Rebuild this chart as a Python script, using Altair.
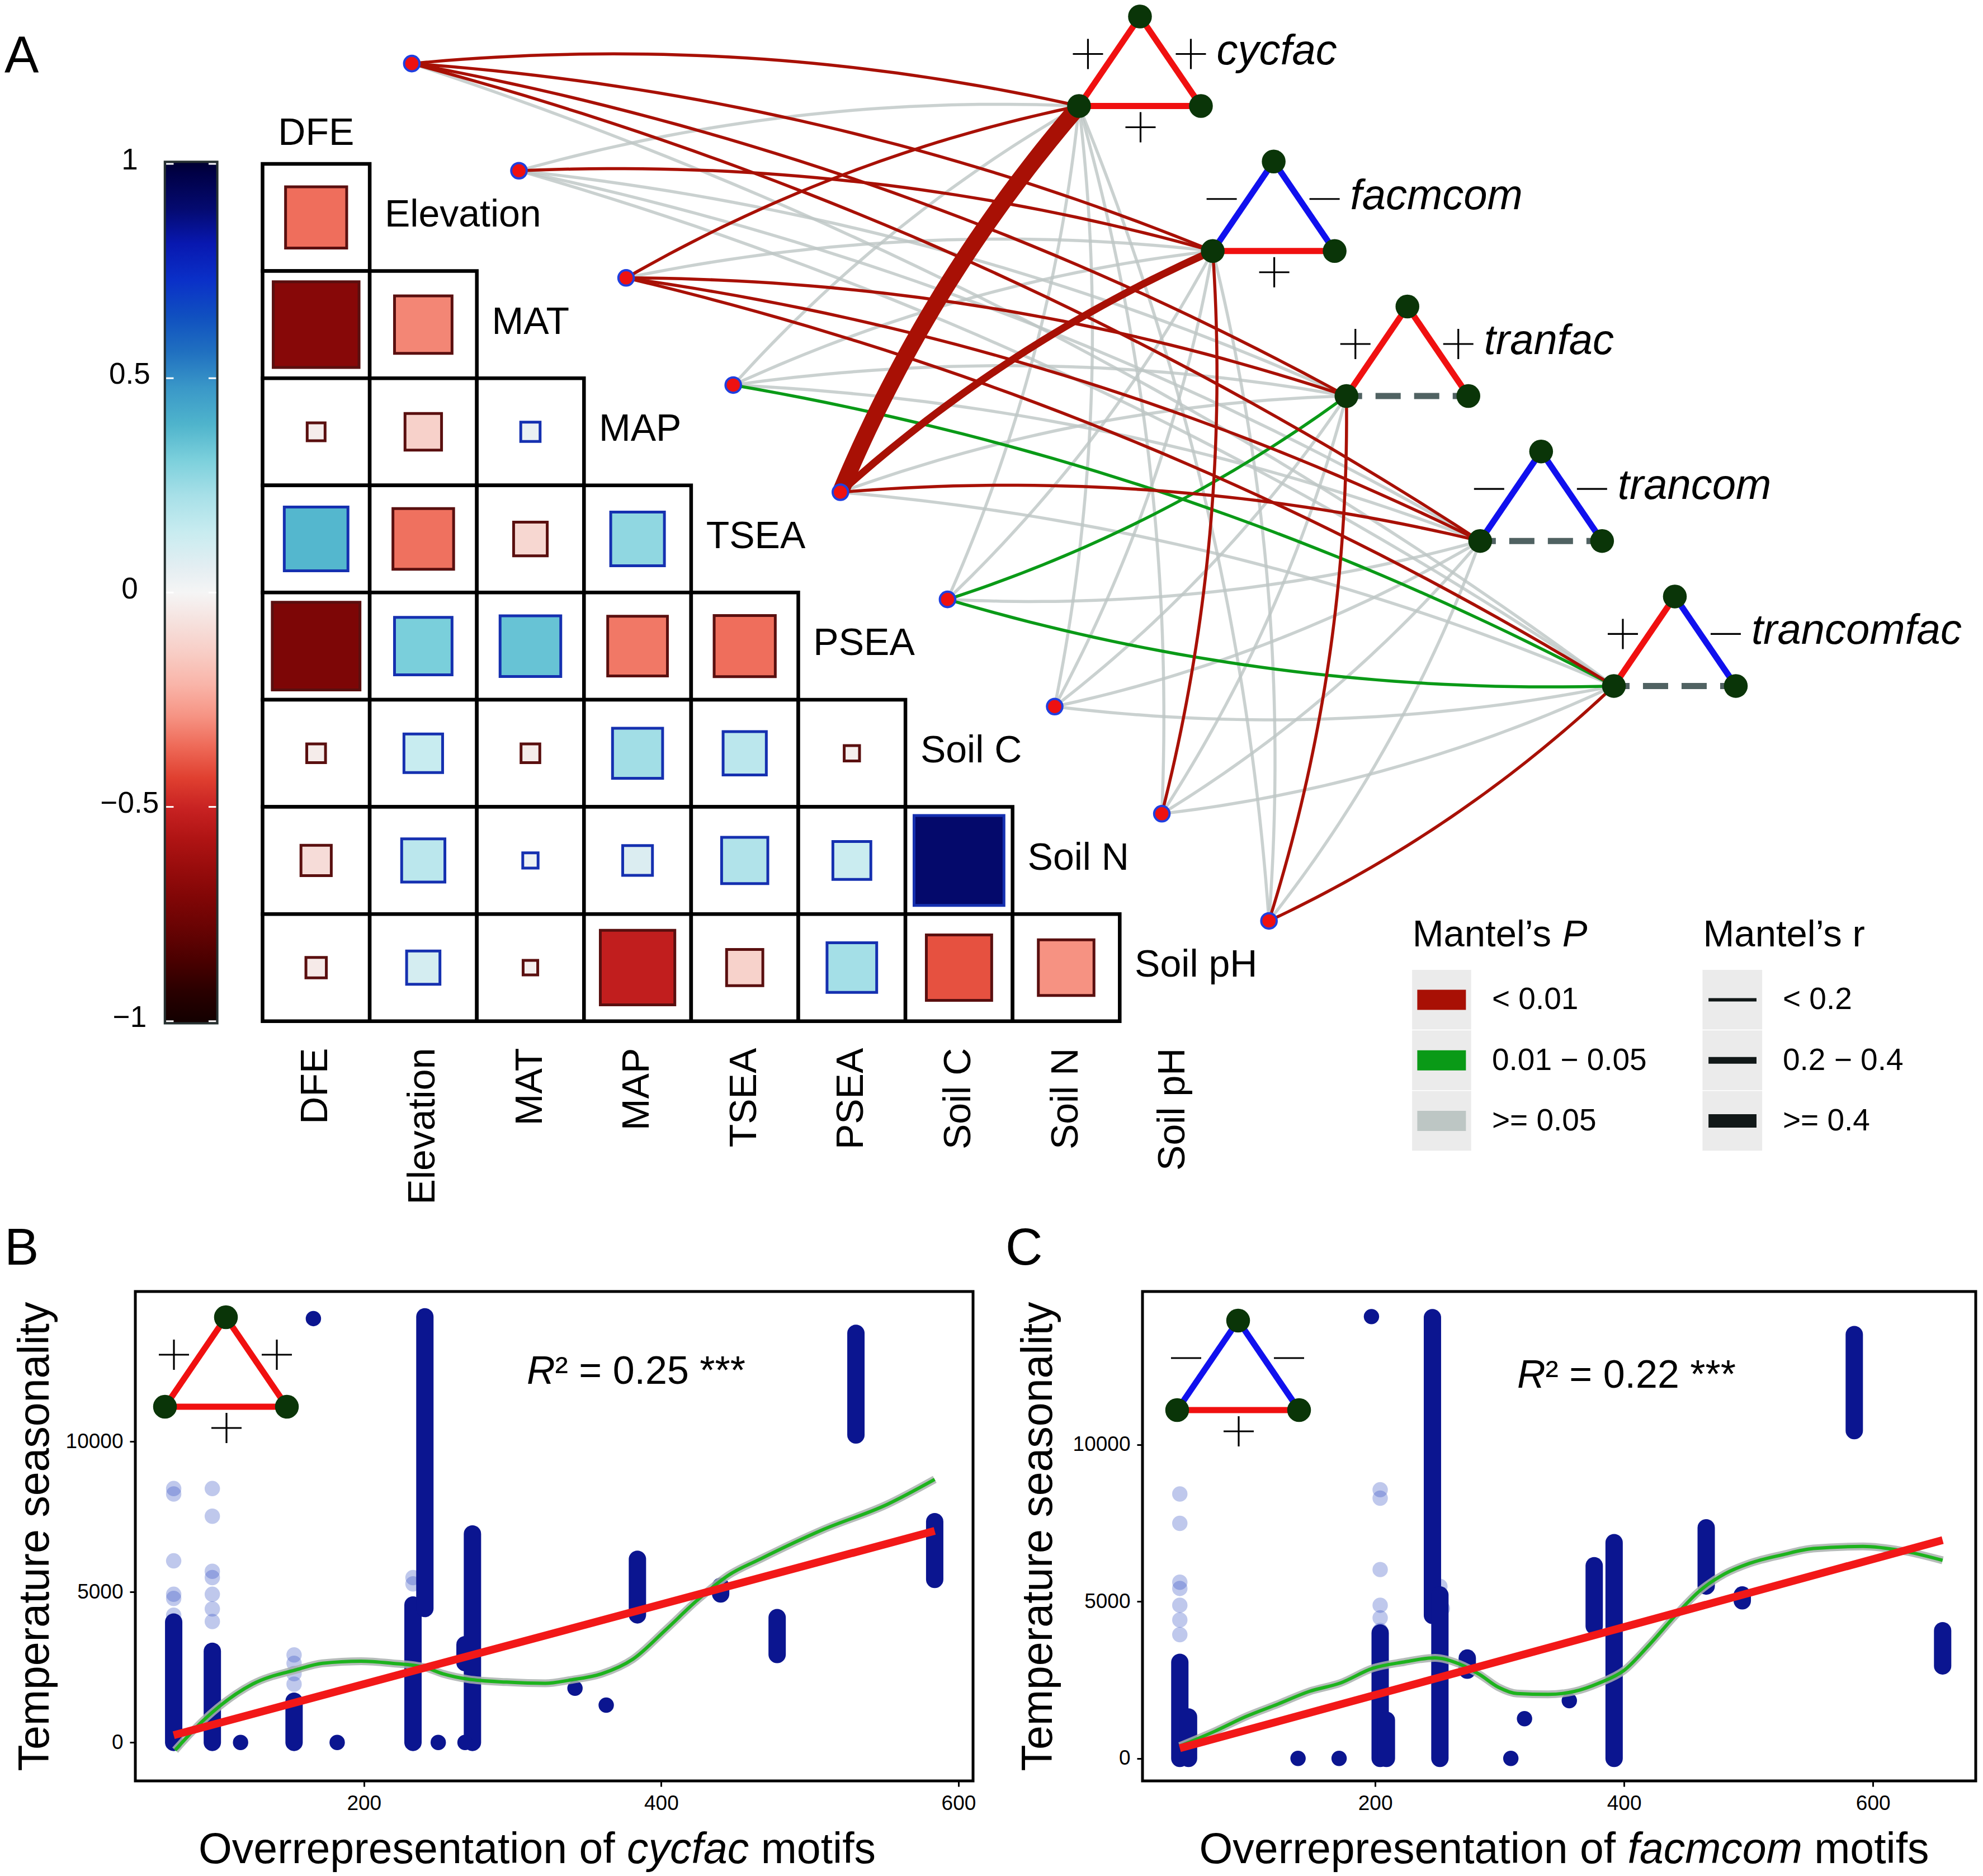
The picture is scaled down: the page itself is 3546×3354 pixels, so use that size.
import math
import numpy as np
import pandas as pd
import altair as alt

FONT = "Liberation Sans"

# ------------------------------------------------------------------
# Panel A data
# ------------------------------------------------------------------
env_vars = ["DFE", "Elevation", "MAT", "MAP", "TSEA", "PSEA", "Soil C", "Soil N", "Soil pH"]
# lower triangle of the correlation matrix: row k (variable k = 1..8) against columns 0..k-1
corr_lower = [
    [-0.35],
    [-0.69, -0.31],
    [-0.03, -0.125, 0.035],
    [0.38, -0.345, -0.106, 0.27],
    [-0.72, 0.31, 0.345, -0.334, -0.35],
    [-0.033, 0.14, -0.033, 0.235, 0.175, -0.022],
    [-0.086, 0.175, 0.022, 0.083, 0.20, 0.135, 0.90],
    [-0.039, 0.104, -0.02, -0.52, -0.123, 0.231, -0.40, -0.29],
]
motif_names = ["cycfac", "facmcom", "tranfac", "trancom", "trancomfac"]
motif_left_sign = ["+", "-", "+", "-", "+"]
motif_right_sign = ["+", "-", "+", "-", "-"]
motif_base_sign = ["+", "+", "0", "0", "0"]
# Mantel's P class (0: < 0.01, 1: 0.01-0.05, 2: >= 0.05), env rows x motif cols
mantel_p_class = [
    [0, 0, 0, 0, 2],
    [2, 0, 2, 2, 2],
    [0, 2, 0, 0, 0],
    [2, 2, 2, 2, 1],
    [0, 0, 2, 0, 2],
    [2, 2, 1, 2, 1],
    [2, 2, 2, 2, 2],
    [2, 0, 2, 2, 2],
    [2, 2, 0, 2, 0],
]
# Mantel's r class (0: < 0.2, 1: 0.2-0.4, 2: >= 0.4)
mantel_r_class = [
    [0, 0, 0, 0, 0],
    [0, 0, 0, 0, 0],
    [0, 0, 0, 0, 0],
    [0, 0, 0, 0, 0],
    [2, 1, 0, 0, 0],
    [0, 0, 0, 0, 0],
    [0, 0, 0, 0, 0],
    [0, 0, 0, 0, 0],
    [0, 0, 0, 0, 0],
]
p_labels = ["< 0.01", "0.01 \u2212 0.05", ">= 0.05"]
r_labels = ["< 0.2", "0.2 \u2212 0.4", ">= 0.4"]
cbar_ticks = [1, 0.5, 0, -0.5, -1]
cbar_tick_labels = ["1", "0.5", "0", "\u22120.5", "\u22121"]

# ------------------------------------------------------------------
# Panel B data (cycfac)
# ------------------------------------------------------------------
b_dense_x = [72, 98, 153, 233, 241, 268, 273, 384, 440, 478, 531, 584]
b_dense_lo = [0, 0, 0, 0, 4450, 2650, 0, 4240, 4935, 2920, 10220, 5420]
b_dense_hi = [4000, 3030, 1370, 4570, 14150, 3250, 6930, 6090, 5190, 4150, 13600, 7340]
b_light_x = [72, 72, 72, 72, 72, 72, 98, 98, 98, 98, 98, 98, 98, 153, 153, 153, 153, 233, 233]
b_light_y = [8438, 8258, 6035, 4924, 4786, 4230, 8438, 7521, 5688, 5479, 4924, 4438, 4020,
             2909, 2631, 2284, 1937, 5479, 5270]
b_solo_x = [117, 166, 182, 250, 268, 342, 363]
b_solo_y = [0, 14090, 0, 0, 0, 1800, 1240]
b_loess_x = [73, 91, 125, 155, 172, 198, 219, 241, 253, 270, 296, 322, 339, 360, 381, 403,
             424, 445, 467, 509, 552, 584]
b_loess_y = [-258, 686, 1937, 2423, 2631, 2701, 2631, 2493, 2284, 2103, 2005, 1964, 2075,
             2284, 2770, 3742, 4715, 5550, 6104, 7076, 7911, 8744]
b_fit_x = [72, 584]
b_fit_y = [240, 7030]

# ------------------------------------------------------------------
# Panel C data (facmcom)
# ------------------------------------------------------------------
c_dense_x = [43, 50, 204, 209, 246, 252, 274, 376, 392, 466, 495, 585, 656]
c_dense_lo = [0, 0, 0, 0, 4560, 0, 2815, 4220, 0, 5495, 5025, 10450, 2950]
c_dense_hi = [3065, 1320, 4000, 1220, 14050, 5210, 3200, 6145, 6880, 7350, 5210, 13510, 4070]
c_light_x = [43, 43, 43, 43, 43, 43, 43, 204, 204, 204, 204, 204, 204, 252, 254]
c_light_y = [8431, 7494, 5619, 5419, 4884, 4413, 3945, 8566, 8297, 6021, 4884, 4481, 4079,
             5485, 4780]
c_solo_x = [138, 171, 197, 309, 320, 356]
c_solo_y = [0, 0, 14084, 0, 1266, 1842]
c_loess_x = [43, 71, 96, 122, 147, 172, 198, 223, 248, 268, 284, 299, 314, 339, 360, 380,
             400, 420, 441, 461, 481, 501, 527, 552, 592, 623, 656]
c_loess_y = [395, 864, 1333, 1735, 2136, 2404, 2873, 3073, 3208, 3007, 2673, 2270, 2070,
             2043, 2136, 2404, 2807, 3610, 4547, 5351, 5887, 6222, 6490, 6690, 6757, 6623, 6315]
c_fit_x = [43, 656]
c_fit_y = [327, 6958]

# ------------------------------------------------------------------
# styles / layout
# ------------------------------------------------------------------
CELL = 191.6
LEFT_OVER = 236          # room left of panel B's frame (axis labels + title)
WA, HA = 3530 - LEFT_OVER, 2295
U0 = -(471.5 - 8 - LEFT_OVER) / CELL
U1 = U0 + WA / CELL
V0 = -1.456
V1 = V0 + HA / CELL

NAVY = "#0b1590"
LIGHT_BLUE = "#2a48c0"
P_COLORS = ["#A81005", "#0A9A17", "#BDC6C4"]
R_WIDTHS = [5.5, 13, 30]
LEG_R_WIDTHS = [6, 12, 24]
NODE_GREEN = "#0A3508"
TRI_RED = "#F01010"
TRI_BLUE = "#1010EE"

cdom = [-1, -0.925, -0.854, -0.78, -0.71, -0.64, -0.57, -0.5, -0.43, -0.357, -0.286, -0.215,
        -0.144, -0.073, 0, 0.057, 0.14, 0.224, 0.307, 0.39, 0.475, 0.558, 0.64, 0.725, 0.81,
        0.89, 0.975, 1]
crng = ["#120000", "#2a0000", "#4a0000", "#680303", "#800606", "#980c0c", "#b01414", "#c82222",
        "#e04030", "#ee6a58", "#f69484", "#f9b4a8", "#f8ccc4", "#f6e0dc", "#f5f5f5", "#e4eef2",
        "#c8ecf0", "#a8e0e8", "#7cd0dc", "#4fb4cc", "#3a98c8", "#2070c0", "#1050c0", "#0a30c8",
        "#0818b0", "#040a70", "#000045", "#000030"]
CSCALE = alt.Scale(domain=cdom, range=crng, interpolate="rgb")


def XA(f):
    return alt.X(f, type="quantitative",
                 scale=alt.Scale(domain=[U0, U1], nice=False, zero=False), axis=None)


def YA(f):
    return alt.Y(f, type="quantitative",
                 scale=alt.Scale(domain=[V0, V1], nice=False, zero=False, reverse=True), axis=None)


def text_layer(df, enc_x, enc_y, **mk):
    base = dict(font=FONT, color="black")
    base.update(mk)
    return alt.Chart(df).mark_text(**base).encode(x=enc_x("x"), y=enc_y("y"), text="t:N")


def glyph_layers(anchors, conv, enc_x, enc_y):
    P = {"L": (0, 0), "T": (109, -160), "R": (218, 0)}
    solid, dashed, nodes, signs = [], [], [], []
    for k, anc in anchors:
        for a, b, s in [("L", "T", motif_left_sign[k]), ("T", "R", motif_right_sign[k]),
                        ("L", "R", motif_base_sign[k])]:
            x1, y1 = conv(anc, *P[a])
            x2, y2 = conv(anc, *P[b])
            row = dict(x=x1, y=y1, x2=x2, y2=y2, s=s)
            (dashed if s == "0" else solid).append(row)
        for key in P:
            x, y = conv(anc, *P[key])
            nodes.append(dict(x=x, y=y))
        for s, (cx, cy) in [(motif_left_sign[k], (16, -93)), (motif_right_sign[k], (200, -93)),
                            (motif_base_sign[k], (110, 38))]:
            if s == "0":
                continue
            xa, ya = conv(anc, cx - 27, cy)
            xb, yb = conv(anc, cx + 27, cy)
            signs.append(dict(x=xa, y=ya, x2=xb, y2=yb))
            if s == "+":
                xa, ya = conv(anc, cx, cy - 27)
                xb, yb = conv(anc, cx, cy + 27)
                signs.append(dict(x=xa, y=ya, x2=xb, y2=yb))
    out = []
    out.append(alt.Chart(pd.DataFrame(solid)).mark_rule(strokeWidth=11).encode(
        x=enc_x("x"), y=enc_y("y"), x2="x2", y2="y2",
        color=alt.Color("s:N", scale=alt.Scale(domain=["+", "-"], range=[TRI_RED, TRI_BLUE]),
                        legend=None)))
    if dashed:
        out.append(alt.Chart(pd.DataFrame(dashed)).mark_rule(
            strokeWidth=11, color="#506262", strokeDash=[45, 24], strokeDashOffset=17).encode(
            x=enc_x("x"), y=enc_y("y"), x2="x2", y2="y2"))
    out.append(alt.Chart(pd.DataFrame(nodes)).mark_circle(size=1810, color=NODE_GREEN, opacity=1).encode(
        x=enc_x("x"), y=enc_y("y")))
    out.append(alt.Chart(pd.DataFrame(signs)).mark_rule(color="black", strokeWidth=3.2).encode(
        x=enc_x("x"), y=enc_y("y"), x2="x2", y2="y2"))
    return out


# ------------------------------------------------------------------
# Panel A
# ------------------------------------------------------------------
grid_rows = []
for k in range(1, 9):
    for j in range(k):
        grid_rows.append(dict(x=j, x2=j + 1, y=k - 1, y2=k, xc=j + 0.5, yc=k - 0.5,
                              r=corr_lower[k - 1][j]))
grid_df = pd.DataFrame(grid_rows)

layersA = []
layersA.append(alt.Chart(grid_df).mark_rect(fill="white", stroke="black", strokeWidth=6.5).encode(
    x=XA("x"), x2="x2", y=YA("y"), y2="y2"))
layersA.append(alt.Chart(grid_df).transform_calculate(
    absr="abs(datum.r)", sgn="datum.r < 0 ? 'neg' : 'pos'").mark_square(
    filled=True, strokeWidth=5, opacity=1).encode(
    x=XA("xc"), y=YA("yc"),
    size=alt.Size("absr:Q", scale=alt.Scale(domain=[0, 0.757], range=[0, 0.757 * CELL * CELL * 0.93],
                                            clamp=True), legend=None),
    fill=alt.Fill("r:Q", scale=CSCALE, legend=None),
    stroke=alt.Stroke("sgn:N", scale=alt.Scale(domain=["neg", "pos"], range=["#5a0f0f", "#1530b0"]),
                      legend=None)))

# colour bar
grad = alt.LinearGradient(gradient="linear",
                          stops=[alt.GradientStop(offset=(d + 1) / 2, color=c) for d, c in zip(cdom, crng)],
                          x1=0, x2=0, y1=1, y2=0)
cb_df = pd.DataFrame([dict(x=-0.912, x2=-0.422, y=-0.02, y2=8.02)])
layersA.append(alt.Chart(cb_df).mark_rect(fill=grad, stroke="#263030", strokeWidth=4).encode(
    x=XA("x"), x2="x2", y=YA("y"), y2="y2"))
cbt = []
for tv in cbar_ticks:
    vv = 4 - 4 * tv
    cbt.append(dict(x=-0.90, x2=-0.83, y=vv))
    cbt.append(dict(x=-0.504, x2=-0.434, y=vv))
layersA.append(alt.Chart(pd.DataFrame(cbt)).mark_rule(color="white", strokeWidth=3).encode(
    x=XA("x"), x2="x2", y=YA("y")))
layersA.append(text_layer(pd.DataFrame([dict(x=-1.24, y=4 - 4 * tv - 0.03, t=tl)
                                        for tv, tl in zip(cbar_ticks, cbar_tick_labels)]),
                          XA, YA, fontSize=53, align="center", baseline="middle"))

# variable labels (diagonal and bottom)
layersA.append(text_layer(pd.DataFrame([dict(x=0.5, y=-0.28, t=env_vars[0])]), XA, YA,
                          fontSize=68, align="center", baseline="middle"))
layersA.append(text_layer(pd.DataFrame([dict(x=k + 0.14, y=k - 0.52, t=env_vars[k]) for k in range(1, 9)]),
                          XA, YA, fontSize=68, align="left", baseline="middle"))
layersA.append(text_layer(pd.DataFrame([dict(x=j + 0.5, y=8.25, t=env_vars[j]) for j in range(9)]),
                          XA, YA, fontSize=68, align="right", baseline="middle", angle=270))

# Mantel network edges (curved)
env_pos = [(i + 1.393, i - 0.936) for i in range(9)]
motif_pos = [(7.62 + 1.248 * k, -0.54 + 1.353 * k) for k in range(5)]
edge_rows = []
for i in range(9):
    ue, ve = env_pos[i]
    for k in range(5):
        um, vm = motif_pos[k]
        du, dv = um - ue, vm - ve
        L = math.hypot(du, dv)
        nu, nv = dv / L, -du / L
        s = 0.04 * L * (1 if i <= 4 else -1)
        cu = (ue + um) / 2 + 2 * s * nu
        cv = (ve + vm) / 2 + 2 * s * nv
        for t in np.linspace(0, 1, 41):
            edge_rows.append(dict(eid=i * 5 + k, t=t,
                                  x=(1 - t) ** 2 * ue + 2 * (1 - t) * t * cu + t ** 2 * um,
                                  y=(1 - t) ** 2 * ve + 2 * (1 - t) * t * cv + t ** 2 * vm,
                                  p=mantel_p_class[i][k], rc=mantel_r_class[i][k]))
edges_df = pd.DataFrame(edge_rows)
for pc, op in [(2, 0.8), (1, 1.0), (0, 1.0)]:
    for rc in range(3):
        sub = edges_df[(edges_df.p == pc) & (edges_df.rc == rc)]
        if len(sub) == 0:
            continue
        layersA.append(alt.Chart(sub).mark_line(
            color=P_COLORS[pc], strokeWidth=R_WIDTHS[rc], opacity=op).encode(
            x=XA("x"), y=YA("y"), detail="eid:N", order="t:Q"))

# env nodes
layersA.append(alt.Chart(pd.DataFrame([dict(x=u, y=v) for u, v in env_pos])).mark_circle(
    size=760, fill="#EE1111", stroke="#1F3FE0", strokeWidth=4, opacity=1).encode(x=XA("x"), y=YA("y")))

# motif glyphs
convA = lambda anc, dx, dy: (anc[0] + dx / CELL, anc[1] + dy / CELL)
layersA += glyph_layers(list(enumerate(motif_pos)), convA, XA, YA)
layersA.append(text_layer(pd.DataFrame([dict(x=u + 246 / CELL, y=v - 75 / CELL, t=motif_names[k])
                                        for k, (u, v) in enumerate(motif_pos)]),
                          XA, YA, fontSize=76, fontStyle="italic", align="left", baseline="alphabetic"))

# Mantel legends
key_v = [7.80, 8.365, 8.93]
key_bg = []
for kv in key_v:
    key_bg.append(dict(x=10.725, x2=11.284, y=kv - 0.2827, y2=kv + 0.2827))
    key_bg.append(dict(x=13.435, x2=14.0, y=kv - 0.2827, y2=kv + 0.2827))
layersA.append(alt.Chart(pd.DataFrame(key_bg)).mark_rect(fill="#EBEBEB", stroke="white", strokeWidth=1.5).encode(
    x=XA("x"), x2="x2", y=YA("y"), y2="y2"))
for i, kv in enumerate(key_v):
    layersA.append(alt.Chart(pd.DataFrame([dict(x=10.777, x2=11.231, y=kv - 0.094, y2=kv + 0.094)])).mark_rect(
        fill=P_COLORS[i]).encode(x=XA("x"), x2="x2", y=YA("y"), y2="y2"))
    layersA.append(alt.Chart(pd.DataFrame([dict(x=13.495, x2=13.943, y=kv)])).mark_rule(
        color="#111818", strokeWidth=LEG_R_WIDTHS[i]).encode(x=XA("x"), x2="x2", y=YA("y")))
layersA.append(text_layer(pd.DataFrame([dict(x=11.474, y=kv, t=p_labels[i]) for i, kv in enumerate(key_v)] +
                                       [dict(x=14.188, y=kv, t=r_labels[i]) for i, kv in enumerate(key_v)]),
                          XA, YA, fontSize=55, align="left", baseline="middle"))
layersA.append(text_layer(pd.DataFrame([dict(x=10.732, y=7.302, t="Mantel\u2019s"),
                                        dict(x=13.445, y=7.302, t="Mantel\u2019s r")]),
                          XA, YA, fontSize=67, align="left", baseline="alphabetic"))
layersA.append(text_layer(pd.DataFrame([dict(x=10.732 + 4.001 * 67 / CELL, y=7.302, t="P")]),
                          XA, YA, fontSize=67, fontStyle="italic", align="left", baseline="alphabetic"))

# panel letters (left edge of the page)
u_page_left = U0 - (LEFT_OVER - 2) / CELL
layersA.append(text_layer(pd.DataFrame([dict(x=u_page_left, y=-0.851, t="A"),
                                        dict(x=u_page_left, y=10.271, t="B"),
                                        dict(x=6.934, y=10.271, t="C")]),
                          XA, YA, fontSize=92, align="left", baseline="alphabetic"))

panelA = alt.layer(*layersA).properties(width=WA, height=HA)


# ------------------------------------------------------------------
# Panels B and C
# ------------------------------------------------------------------
def scatter_panel(W, H, xdom, ydom, dense_x, dense_lo, dense_hi, light_x, light_y, solo_x, solo_y,
                  loess_x, loess_y, fit_x, fit_y, motif_k, anchor, r2_text, r2_pos, word, title_cx,
                  ytitle_x):
    def px2x(p):
        return xdom[0] + p * (xdom[1] - xdom[0]) / W

    def px2y(p):
        return ydom[1] - p * (ydom[1] - ydom[0]) / H

    xs = alt.Scale(domain=list(xdom), nice=False, zero=False)
    ys = alt.Scale(domain=list(ydom), nice=False, zero=False)
    common = dict(labelFont=FONT, labelFontSize=37, labelColor="black", tickColor="black",
                  tickSize=10, tickWidth=3, labelPadding=12, domain=False, grid=False, format="d")
    xax = alt.Axis(values=[200, 400, 600], title=None, **common)
    yax = alt.Axis(values=[0, 5000, 10000], title="Temperature seasonality", titleFont=FONT,
                   titleFontSize=77, titleFontWeight="normal", titleColor="black",
                   titleX=ytitle_x, titleY=H / 2, titleAngle=270, titleAlign="center",
                   titleBaseline="middle", **common)

    def XB(f):
        return alt.X(f, type="quantitative", scale=xs, axis=xax)

    def YB(f):
        return alt.Y(f, type="quantitative", scale=ys, axis=yax)

    L = []
    L.append(alt.Chart(pd.DataFrame({"x": light_x, "y": light_y})).mark_circle(
        size=755, color=LIGHT_BLUE, opacity=0.3).encode(x=XB("x"), y=YB("y")))
    L.append(alt.Chart(pd.DataFrame({"x": dense_x, "y": dense_lo, "y2": dense_hi})).mark_rule(
        color=NAVY, strokeWidth=31, strokeCap="round").encode(x=XB("x"), y=YB("y"), y2="y2"))
    L.append(alt.Chart(pd.DataFrame({"x": solo_x, "y": solo_y})).mark_circle(
        size=755, color=NAVY, opacity=1).encode(x=XB("x"), y=YB("y")))
    ldf = pd.DataFrame({"x": loess_x, "y": loess_y})
    L.append(alt.Chart(ldf).mark_line(color="#A9B0AE", strokeWidth=14, opacity=0.85,
                                      interpolate="monotone").encode(x=XB("x"), y=YB("y")))
    L.append(alt.Chart(ldf).mark_line(color="#1DB31D", strokeWidth=6,
                                      interpolate="monotone").encode(x=XB("x"), y=YB("y")))
    L.append(alt.Chart(pd.DataFrame({"x": fit_x, "y": fit_y})).mark_line(
        color="#F21818", strokeWidth=14).encode(x=XB("x"), y=YB("y")))
    convB = lambda anc, dx, dy: (px2x(anc[0] + dx), px2y(anc[1] + dy))
    L += glyph_layers([(motif_k, anchor)], convB, XB, YB)
    # R^2 annotation
    rx, ry = r2_pos
    L.append(text_layer(pd.DataFrame([dict(x=px2x(rx), y=px2y(ry), t="R")]), XB, YB,
                        fontSize=70, fontStyle="italic", align="left", baseline="alphabetic"))
    L.append(text_layer(pd.DataFrame([dict(x=px2x(rx + 0.722 * 70), y=px2y(ry), t=r2_text)]), XB, YB,
                        fontSize=70, align="left", baseline="alphabetic"))
    # x title with italic motif name
    fs = 77
    w1 = 9.949 * fs
    wm = {"cycfac": 2.834, "facmcom": 4.056}[word] * fs
    w3 = 2.945 * fs
    x0 = title_cx - (w1 + wm + w3) / 2
    ty = px2y(1022)
    L.append(text_layer(pd.DataFrame([dict(x=px2x(x0), y=ty, t="Overrepresentation of"),
                                      dict(x=px2x(x0 + w1 + wm + 0.278 * fs), y=ty, t="motifs")]),
                        XB, YB, fontSize=fs, align="left", baseline="alphabetic"))
    L.append(text_layer(pd.DataFrame([dict(x=px2x(x0 + w1), y=ty, t=word)]), XB, YB,
                        fontSize=fs, fontStyle="italic", align="left", baseline="alphabetic"))
    return alt.layer(*L).properties(width=W, height=H,
                                    view=alt.ViewBackground(stroke="black", strokeWidth=5))


panelB = scatter_panel(1498, 875, (46.2, 609.8), (-1280, 14990), b_dense_x, b_dense_lo, b_dense_hi,
                       b_light_x, b_light_y, b_solo_x, b_solo_y, b_loess_x, b_loess_y, b_fit_x, b_fit_y,
                       0, (53, 206), "\u00b2 = 0.25 ***", (700, 165), "cycfac", 718.5, -179)
panelC = scatter_panel(1490, 875, (13.0, 682.6), (-716, 14884), c_dense_x, c_dense_lo, c_dense_hi,
                       c_light_x, c_light_y, c_solo_x, c_solo_y, c_loess_x, c_loess_y, c_fit_x, c_fit_y,
                       1, (62, 212), "\u00b2 = 0.22 ***", (670, 172), "facmcom", 754, -186)

row = alt.hconcat(panelB, panelC, spacing=303, bounds="flush")
chart = alt.vconcat(panelA, row, spacing=0, bounds="flush").properties(padding=0)
chart = chart.configure(font=FONT).configure_view(stroke=None)

chart.save("out.html", embed_options={"renderer": "svg", "actions": False})
